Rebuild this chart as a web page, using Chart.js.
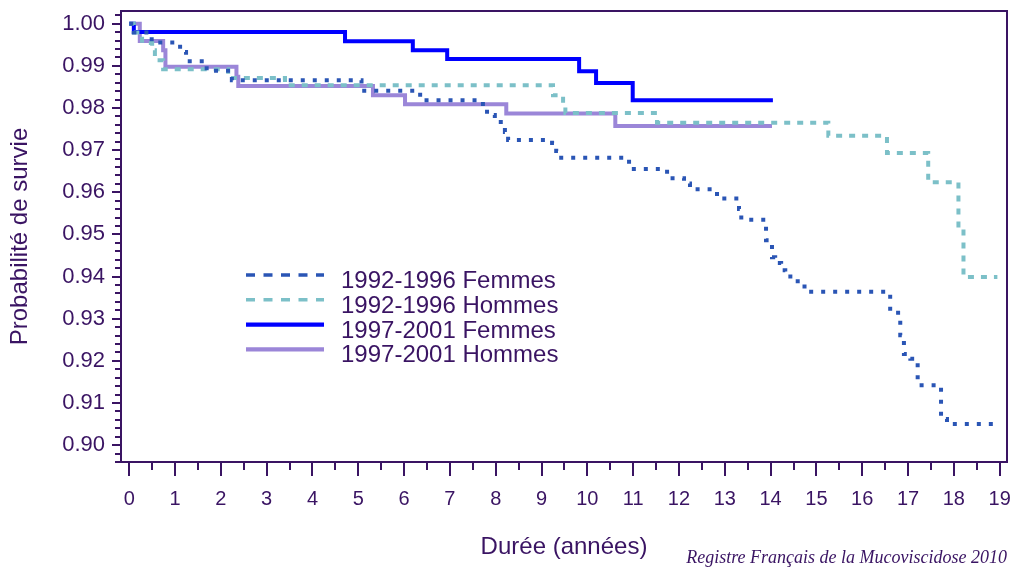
<!DOCTYPE html>
<html>
<head>
<meta charset="utf-8">
<script src="https://cdn.jsdelivr.net/npm/chart.js@4/dist/chart.umd.min.js"></script>
<style>
  body { margin: 0; background: #fff; }
  #wrap { position: relative; width: 1017px; height: 570px; }
  #source {
    position: absolute; right: 10px; bottom: 2px;
    font: italic 18px "Liberation Serif", "Times New Roman", serif;
    color: #3a1463;
  }
</style>
</head>
<body>
<div id="wrap">
  <canvas id="survie" width="1017" height="570"></canvas>
  <div id="source">Registre Français de la Mucoviscidose 2010</div>
</div>
<script>
// courbes de Kaplan-Meier : temps (années) et probabilité de survie
const fem9296T = [0, 0.10, 0.49, 1.11, 1.24, 1.69, 2.24, 5.07, 6.35, 7.72, 7.81, 7.98, 8.11, 8.20, 8.27,
  9.23, 9.32, 9.36, 10.91, 11.74, 12.11, 12.24, 12.83, 13.31, 13.36, 13.90, 14.03, 14.10, 14.23, 14.32,
  14.49, 14.74, 16.61, 16.83, 16.91, 17.05, 17.21, 17.72, 17.85, 18.97];
const fem9296S = [1.0, 0.9979, 0.9955, 0.9933, 0.9911, 0.9888, 0.9866, 0.9841, 0.9818, 0.9799, 0.9783, 0.9773, 0.9759, 0.9743, 0.9724,
  0.9717, 0.9698, 0.9682, 0.9655, 0.9633, 0.9621, 0.9607, 0.9585, 0.9560, 0.9535, 0.9486, 0.9446, 0.9432, 0.9415, 0.9400,
  0.9389, 0.9364, 0.9314, 0.9261, 0.9216, 0.9205, 0.9142, 0.9062, 0.9050, 0.9050];

const hom9296T = [0, 0.10, 0.28, 0.50, 0.56, 0.74, 2.16, 3.40, 9.25, 9.47, 9.52, 11.52, 15.26, 16.54, 17.44, 18.10, 18.21, 18.95];
const hom9296S = [1.0, 0.9979, 0.9954, 0.9937, 0.9913, 0.9892, 0.9871, 0.9854, 0.9830, 0.9809, 0.9788, 0.9765, 0.9734, 0.9693, 0.9624, 0.9515, 0.9399, 0.9399];

const fem9701T = [0, 0.10, 4.71, 6.19, 6.94, 9.82, 10.19, 10.99, 14.05];
const fem9701S = [1.0, 0.9980, 0.9958, 0.9937, 0.9916, 0.9887, 0.9859, 0.9818, 0.9818];

const hom9701T = [0, 0.23, 0.74, 0.79, 2.34, 2.38, 5.32, 6.02, 8.23, 10.61, 14.03];
const hom9701S = [1.0, 0.9959, 0.9937, 0.9898, 0.9874, 0.9852, 0.9830, 0.9809, 0.9787, 0.9757, 0.9757];

const seriesLabels = ["1992-1996 Femmes", "1992-1996 Hommes", "1997-2001 Femmes", "1997-2001 Hommes"];

const INK = "#3a1463";
const FONT = "'Liberation Sans', Arial, sans-serif";

function pairs(t, s) {
  return t.map((v, i) => ({ x: v, y: s[i] }));
}

function isWhole(v, unit) {
  const k = v / unit;
  return Math.abs(k - Math.round(k)) < 1e-6;
}

// cadre + graduations (majeures / mineures)
const frameTicks = {
  id: 'frameTicks',
  afterDraw(chart) {
    const { ctx, chartArea: a, scales: { x, y } } = chart;
    ctx.save();
    ctx.strokeStyle = INK;
    ctx.lineWidth = 2;
    ctx.beginPath();
    x.ticks.forEach(t => {
      const px = Math.round(x.getPixelForValue(t.value));
      const len = isWhole(t.value, 1) ? 13 : 7;
      ctx.moveTo(px, a.bottom + 1);
      ctx.lineTo(px, a.bottom + 1 + len);
    });
    y.ticks.forEach(t => {
      const py = Math.round(y.getPixelForValue(t.value));
      const len = isWhole(t.value, 0.01) ? 8 : 5;
      ctx.moveTo(a.left - 1, py);
      ctx.lineTo(a.left - 1 - len, py);
    });
    ctx.stroke();
    ctx.strokeRect(a.left, a.top, a.right - a.left, a.bottom - a.top);
    ctx.restore();
  }
};

// légende dans la zone du graphique
const legendBox = {
  id: 'legendBox',
  afterDraw(chart) {
    const ctx = chart.ctx;
    ctx.save();
    chart.data.datasets.forEach((ds, i) => {
      const ly = 275 + i * 24.8;
      ctx.beginPath();
      ctx.strokeStyle = ds.borderColor;
      ctx.lineWidth = ds.legendWidth;
      ctx.setLineDash(ds.legendDash);
      ctx.moveTo(246, ly);
      ctx.lineTo(324, ly);
      ctx.stroke();
      ctx.setLineDash([]);
      ctx.fillStyle = INK;
      ctx.font = "24px " + FONT;
      ctx.textBaseline = "alphabetic";
      ctx.fillText(ds.label, 341, ly + 13);
    });
    ctx.restore();
  }
};

new Chart("survie", {
  type: "line",
  data: {
    datasets: [
      { label: seriesLabels[0], data: pairs(fem9296T, fem9296S), borderColor: "#2a55b5", borderWidth: 4,
        borderDash: [4, 8], legendDash: [9, 8.5], legendWidth: 3.5 },
      { label: seriesLabels[1], data: pairs(hom9296T, hom9296S), borderColor: "#7cc0c8", borderWidth: 4,
        borderDash: [6, 7], legendDash: [9, 8.5], legendWidth: 3.5 },
      { label: seriesLabels[2], data: pairs(fem9701T, fem9701S), borderColor: "#0000ff", borderWidth: 4,
        borderDash: [], legendDash: [], legendWidth: 4.3 },
      { label: seriesLabels[3], data: pairs(hom9701T, hom9701S), borderColor: "#9b86d8", borderWidth: 4,
        borderDash: [], legendDash: [], legendWidth: 4.3 }
    ]
  },
  options: {
    responsive: false,
    animation: false,
    layout: { padding: { top: 11, right: 10, left: 0, bottom: 0 } },
    elements: {
      line: { stepped: "before", tension: 0, borderCapStyle: "butt" },
      point: { radius: 0 }
    },
    plugins: { legend: { display: false }, tooltip: { enabled: false } },
    scales: {
      x: {
        type: "linear",
        min: -0.18,
        max: 19.16,
        afterFit(scale) {
          scale.height = 108;
          scale.paddingLeft = 0;
          scale.paddingRight = 0;
        },
        grid: { display: false, drawTicks: false },
        border: { display: false },
        ticks: {
          stepSize: 0.5,
          includeBounds: false,
          autoSkip: false,
          maxRotation: 0,
          padding: 25,
          color: INK,
          font: { family: FONT, size: 20 },
          callback: v => isWhole(v, 1) ? String(Math.round(v)) : ""
        },
        title: {
          display: true,
          text: "Durée (années)",
          color: INK,
          font: { family: FONT, size: 24 },
          padding: { top: 0, bottom: 8 }
        }
      },
      y: {
        type: "linear",
        min: 0.896,
        max: 1.003,
        afterFit(scale) {
          scale.width = 121;
          scale.paddingTop = 0;
          scale.paddingBottom = 0;
        },
        grid: { display: false, drawTicks: false },
        border: { display: false },
        ticks: {
          stepSize: 0.002,
          includeBounds: false,
          autoSkip: false,
          padding: 16,
          color: INK,
          font: { family: FONT, size: 22 },
          callback: v => isWhole(v, 0.01) ? v.toFixed(2) : ""
        },
        title: {
          display: true,
          text: "Probabilité de survie",
          color: INK,
          font: { family: FONT, size: 24 },
          padding: { top: 6, bottom: 0 }
        }
      }
    }
  },
  plugins: [frameTicks, legendBox]
});
</script>
</body>
</html>
